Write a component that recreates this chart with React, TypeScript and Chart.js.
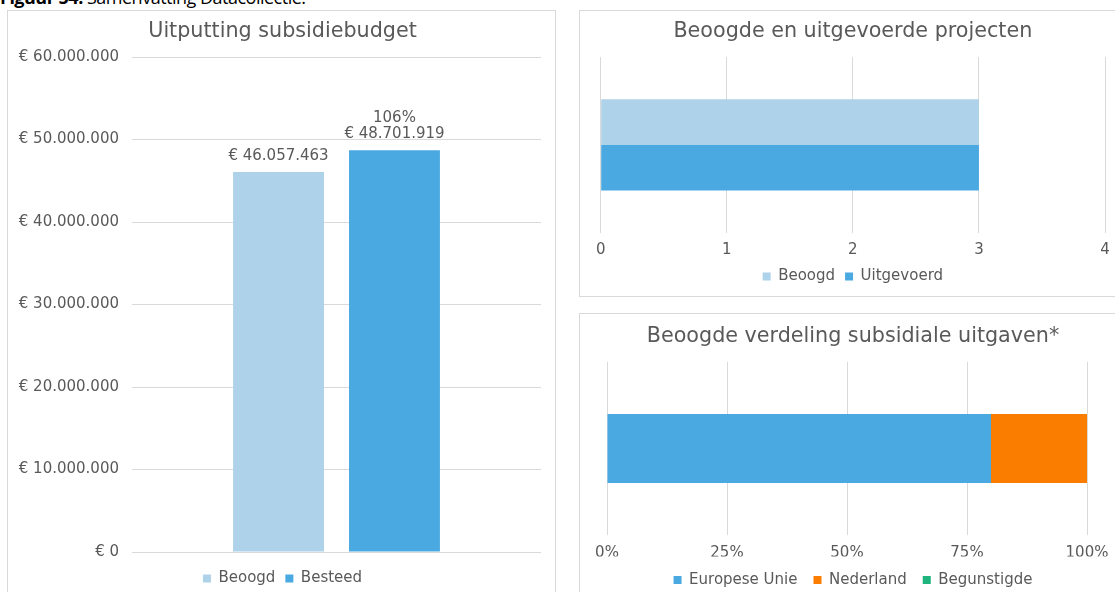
import { useEffect, useRef } from "react";
import { Chart, registerables } from "chart.js";

Chart.register(...registerables);

const FONT = "'DejaVu Sans', Verdana, sans-serif";
const TEXT = "#595959";
const GRID = "#d9d9d9";

// ---- Chart 1: Uitputting subsidiebudget ----
const budgetTitle = "Uitputting subsidiebudget";
const budgetCategories = [""];
const budgetSeries = ["Beoogd", "Besteed"];
const budgetValues = [46057463, 48701919];
const budgetColors = ["#aed2ea", "#4aa9e0"];
const budgetAxisMax = 60000000;
const budgetAxisStep = 10000000;

// ---- Chart 2: Beoogde en uitgevoerde projecten ----
const projectTitle = "Beoogde en uitgevoerde projecten";
const projectCategories = [""];
const projectSeries = ["Beoogd", "Uitgevoerd"];
const projectValues = [3, 3];
const projectColors = ["#aed2ea", "#4aa9e0"];
const projectAxisMax = 4;
const projectAxisStep = 1;

// ---- Chart 3: Beoogde verdeling subsidiale uitgaven ----
const verdelingTitle = "Beoogde verdeling subsidiale uitgaven*";
const verdelingCategories = [""];
const verdelingSeries = ["Europese Unie", "Nederland", "Begunstigde"];
const verdelingValues = [80, 20, 0];
const verdelingColors = ["#4aa9e0", "#fb7d00", "#1fb37d"];
const verdelingAxisMax = 100;
const verdelingAxisStep = 25;

const TICK_SIZE = 15;
const TITLE_SIZE = 20.7;

function formatEuro(v: number): string {
  const s = Math.round(v).toString().replace(/\B(?=(\d{3})+(?!\d))/g, ".");
  return "\u20AC " + s;
}

const budgetLabelPlugin = {
  id: "budgetLabels",
  afterDatasetsDraw(chart: any) {
    const ctx = chart.ctx;
    ctx.save();
    ctx.font = `${TICK_SIZE}px ${FONT}`;
    ctx.fillStyle = TEXT;
    ctx.textAlign = "center";
    ctx.textBaseline = "middle";
    chart.data.datasets.forEach((ds: any, i: number) => {
      const bar = chart.getDatasetMeta(i).data[0];
      if (!bar) return;
      const v = ds.data[0] as number;
      ctx.fillText(formatEuro(v), bar.x, bar.y - 16);
      if (i > 0) {
        const pct = Math.round((v / budgetValues[0]) * 100) + "%";
        ctx.fillText(pct, bar.x, bar.y - 32);
      }
    });
    ctx.restore();
  },
};

function legendOpts(padding: number) {
  return {
    position: "bottom" as const,
    labels: {
      color: TEXT,
      font: { family: FONT, size: TICK_SIZE },
      boxWidth: 8,
      boxHeight: 8,
      padding,
    },
  };
}

function titleOpts(text: string, top: number, bottom: number) {
  return {
    display: true,
    text,
    color: TEXT,
    font: { family: FONT, size: TITLE_SIZE, weight: "normal" as const },
    padding: { top, bottom },
  };
}

const hiddenSideAxis = (position: "left" | "right", width: number, extra: any = {}) => ({
  position,
  grid: { display: false },
  border: { display: false },
  ticks: { display: false },
  afterFit: (s: any) => {
    s.width = width;
  },
  ...extra,
});

function BudgetChart() {
  const ref = useRef<HTMLCanvasElement>(null);
  useEffect(() => {
    const chart = new Chart(ref.current!, {
      type: "bar",
      data: {
        labels: budgetCategories,
        datasets: budgetSeries.map((s, i) => ({
          label: s,
          data: [budgetValues[i]],
          backgroundColor: budgetColors[i],
          categoryPercentage: 0.567,
          barPercentage: 0.784,
        })),
      },
      options: {
        animation: false,
        responsive: false,
        layout: { padding: { left: 5, right: 3, top: 0, bottom: 4 } },
        plugins: {
          title: titleOpts(budgetTitle, 9.6, 12.6),
          legend: legendOpts(10),
          tooltip: { enabled: false },
        },
        scales: {
          x: {
            grid: { display: false },
            border: { display: false },
            ticks: { display: false },
            afterFit: (s: any) => {
              s.height = 9;
            },
          },
          y: {
            min: 0,
            max: budgetAxisMax,
            ticks: {
              stepSize: budgetAxisStep,
              callback: (v: any) => formatEuro(Number(v)),
              color: TEXT,
              font: { family: FONT, size: TICK_SIZE },
              padding: 13,
            },
            grid: { color: GRID, drawTicks: false },
            border: { display: false },
            afterFit: (s: any) => {
              s.width = 120;
            },
          },
          ySpacer: hiddenSideAxis("right", 12, { type: "linear" }),
        },
      },
      plugins: [budgetLabelPlugin],
    } as any);
    return () => chart.destroy();
  }, []);
  return (
    <canvas
      ref={ref}
      width={549}
      height={590}
      style={{ position: "absolute", left: 7, top: 10, width: 549, height: 590 }}
    />
  );
}

function ProjectChart() {
  const ref = useRef<HTMLCanvasElement>(null);
  useEffect(() => {
    const chart = new Chart(ref.current!, {
      type: "bar",
      data: {
        labels: projectCategories,
        datasets: projectSeries.map((s, i) => ({
          label: s,
          data: [projectValues[i]],
          backgroundColor: projectColors[i],
          categoryPercentage: 0.52,
          barPercentage: 1,
        })),
      },
      options: {
        indexAxis: "y",
        animation: false,
        responsive: false,
        layout: { padding: { left: 21.7, right: 23, top: 0, bottom: 2 } },
        plugins: {
          title: titleOpts(projectTitle, 9.6, 12.6),
          legend: legendOpts(10),
          tooltip: { enabled: false },
        },
        scales: {
          x: {
            min: 0,
            max: projectAxisMax,
            ticks: {
              stepSize: projectAxisStep,
              color: TEXT,
              font: { family: FONT, size: TICK_SIZE },
              padding: 8.5,
            },
            grid: { color: GRID, drawTicks: false },
            border: { display: false },
            afterFit: (s: any) => {
              s.height = 26.2;
            },
          },
          y: {
            display: false,
          },
        },
      },
    } as any);
    return () => chart.destroy();
  }, []);
  return (
    <canvas
      ref={ref}
      width={549}
      height={286}
      style={{ position: "absolute", left: 579, top: 10, width: 549, height: 286 }}
    />
  );
}

function VerdelingChart() {
  const ref = useRef<HTMLCanvasElement>(null);
  useEffect(() => {
    const chart = new Chart(ref.current!, {
      type: "bar",
      data: {
        labels: verdelingCategories,
        datasets: verdelingSeries.map((s, i) => ({
          label: s,
          data: [verdelingValues[i]],
          backgroundColor: verdelingColors[i],
          categoryPercentage: 0.5,
          barPercentage: 0.8,
        })),
      },
      options: {
        indexAxis: "y",
        animation: false,
        responsive: false,
        layout: { padding: { left: 28, right: 29, top: 0, bottom: 5.5 } },
        plugins: {
          title: titleOpts(verdelingTitle, 11.6, 12.6),
          legend: legendOpts(16),
          tooltip: { enabled: false },
        },
        scales: {
          x: {
            stacked: true,
            min: 0,
            max: verdelingAxisMax,
            ticks: {
              stepSize: verdelingAxisStep,
              callback: (v: any) => v + "%",
              color: TEXT,
              font: { family: FONT, size: TICK_SIZE },
              padding: 9,
            },
            grid: { color: GRID, drawTicks: false },
            border: { display: false },
            afterFit: (s: any) => {
              s.height = 21.5;
            },
          },
          y: hiddenSideAxis("right", 12, { stacked: true }),
        },
      },
    } as any);
    return () => chart.destroy();
  }, []);
  return (
    <canvas
      ref={ref}
      width={549}
      height={290}
      style={{ position: "absolute", left: 579, top: 313, width: 549, height: 290 }}
    />
  );
}

const panelStyle = (left: number, top: number, width: number, height: number) => ({
  position: "absolute" as const,
  left,
  top,
  width,
  height,
  border: "1px solid #d9d9d9",
  boxSizing: "border-box" as const,
});

export default function App() {
  return (
    <div
      style={{
        position: "fixed",
        left: 0,
        top: 0,
        width: 1115,
        height: 592,
        overflow: "hidden",
        background: "#ffffff",
      }}
    >
      <div
        style={{
          position: "absolute",
          left: 0,
          top: -12,
          fontFamily: "'Liberation Sans Narrow', 'Open Sans', sans-serif",
          fontSize: 18,
          lineHeight: "18px",
          color: "#000",
          letterSpacing: -0.5,
          whiteSpace: "nowrap",
        }}
      >
        <b>Figuur 54.</b> Samenvatting Datacollectie.
      </div>
      <div style={panelStyle(7, 10, 549, 600)} />
      <div style={panelStyle(579, 10, 560, 287)} />
      <div style={panelStyle(579, 313, 560, 300)} />
      <BudgetChart />
      <ProjectChart />
      <VerdelingChart />
    </div>
  );
}
